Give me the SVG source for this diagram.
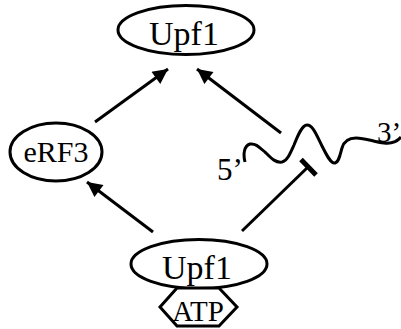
<svg xmlns="http://www.w3.org/2000/svg" width="401" height="329" viewBox="0 0 401 329">
  <style>
    .shape { fill: #fff; stroke: #000; stroke-width: 3; }
    .edge { fill: none; stroke: #000; stroke-width: 3; }
    .label { font-family: "Liberation Serif", "Times New Roman", serif; fill: #000; text-anchor: middle; }
  </style>
  <defs>
    <marker id="arrow" viewBox="0 0 10 10" refX="10" refY="5" markerWidth="5.5" markerHeight="5" markerUnits="strokeWidth" orient="auto">
      <path d="M0,0 L10,5 L0,10 z" fill="#000"/>
    </marker>
  </defs>

  <g id="connectors">
    <line class="edge" x1="95" y1="122" x2="168" y2="69" marker-end="url(#arrow)"/>
    <line class="edge" x1="281" y1="133" x2="197" y2="69" marker-end="url(#arrow)"/>
    <line class="edge" x1="153" y1="232" x2="87" y2="182" marker-end="url(#arrow)"/>
    <line class="edge" x1="242" y1="231" x2="308" y2="167"/>
    <line x1="301" y1="159.5" x2="316" y2="175" stroke="#000" stroke-width="5"/>
  </g>

  <g id="upf1-top">
    <ellipse class="shape" cx="186" cy="30" rx="68" ry="24.5"/>
    <text class="label" x="184" y="45" font-size="34">Upf1</text>
  </g>

  <g id="erf3">
    <ellipse class="shape" cx="56" cy="152" rx="46" ry="29"/>
    <text class="label" x="56" y="162" font-size="30">eRF3</text>
  </g>

  <g id="mrna">
    <path class="edge" d="M245,162 C243,154 244,146 250,144 C256,143 260,148 266,153 C272,159 276,163 282,162 C287,161 290,154 294,145 C298,135 302,125 307,125 C313,125 317,136 322,146 C327,156 331,164 335,163 C339,162 340,155 342,148 C344,141 348,138 356,138 C366,138 374,142 384,143 C392,144 397,142 401,137"/>
    <text class="label" x="230" y="180" font-size="31">5’</text>
    <text class="label" x="389" y="142" font-size="29">3’</text>
  </g>

  <g id="upf1-bottom">
    <ellipse class="shape" cx="199" cy="264" rx="68" ry="24.5"/>
    <text class="label" x="197" y="279" font-size="34">Upf1</text>
  </g>

  <g id="atp">
    <polygon class="shape" points="160,307 177,288 219,288 237,307 219,326 177,326"/>
    <text class="label" x="198" y="321" font-size="29">ATP</text>
  </g>
</svg>
